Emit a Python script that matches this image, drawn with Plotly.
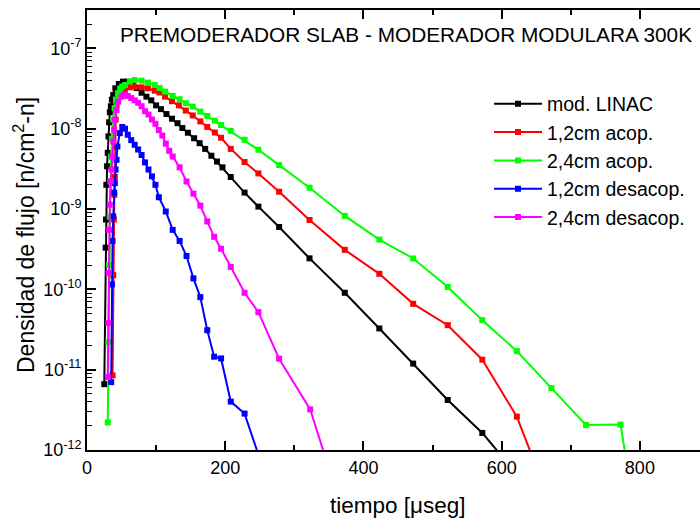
import plotly.graph_objects as go

# ---- data (time in microseconds, flux density) ----
t_linac = [25, 27, 27.5, 28, 29, 30, 31, 32, 33, 34.5, 36, 38, 41, 46, 52, 59, 66, 72, 79, 86,
           93, 100, 107, 115, 123, 131, 138, 146, 155, 163, 171, 180, 188, 196, 208, 228, 248, 278, 322, 373,
           423, 472, 522, 572, 622]
y_linac = [6.6e-12, 3.3e-10, 7.4e-10, 2.0e-9, 3.4e-9, 5.0e-9, 8.0e-9, 1.2e-8, 1.6e-8, 1.9e-8,
           2.3e-8, 2.63e-8, 3.18e-8, 3.6e-8, 3.85e-8, 3.85e-8, 3.55e-8, 3.2e-8, 2.8e-8, 2.5e-8,
           2.25e-8, 1.95e-8, 1.75e-8, 1.52e-8, 1.33e-8, 1.17e-8, 1.02e-8, 8.9e-9, 7.6e-9, 6.6e-9,
           5.6e-9, 4.6e-9, 3.9e-9, 3.3e-9, 2.5e-9, 1.6e-9, 1.07e-9, 5.97e-10, 2.43e-10, 9.06e-11,
           3.26e-11, 1.19e-11, 4.19e-12, 1.63e-12, 5e-13]

t_12acop = [37, 38, 38.8, 39.5, 40.3, 40.8, 41.5, 42.7, 47.5, 54.7, 62, 69, 79, 88, 98, 105, 113, 123,
            133, 143, 153, 164, 174, 185, 194, 208, 228, 248, 278, 322, 373, 423, 472, 522, 572, 622, 672]
y_12acop = [8.5e-12, 1.5e-10, 7.4e-10, 1.5e-9, 2.5e-9, 6e-9, 1.3e-8, 2.0e-8, 2.63e-8, 3.03e-8,
            3.27e-8, 3.33e-8, 3.27e-8, 3.18e-8, 2.97e-8, 2.82e-8, 2.5e-8, 2.2e-8, 1.95e-8, 1.68e-8,
            1.46e-8, 1.23e-8, 1.05e-8, 8.95e-9, 7.7e-9, 5.6e-9, 3.84e-9, 2.77e-9, 1.64e-9, 7.3e-10,
            3.1e-10, 1.56e-10, 6.6e-11, 3.58e-11, 1.33e-11, 2.6e-12, 2e-13]

t_24acop = [30, 31, 32, 33, 34, 35, 36, 38, 40, 42, 45, 48, 51, 55, 62, 69, 79, 88, 98, 105,
            113, 124, 134, 143, 153, 164, 174, 185, 194, 208, 228, 248, 278, 322, 373, 423, 472, 522, 572, 622,
            672, 722, 772, 790]
y_24acop = [2.2e-12, 2.2e-11, 2e-10, 8e-10, 2.2e-9, 4.5e-9, 7.5e-9, 1.3e-8, 1.8e-8, 2.3e-8,
            2.76e-8, 3.15e-8, 3.35e-8, 3.5e-8, 3.85e-8, 4.03e-8, 3.96e-8, 3.74e-8, 3.5e-8, 3.2e-8,
            2.89e-8, 2.55e-8, 2.32e-8, 2.07e-8, 1.88e-8, 1.63e-8, 1.44e-8, 1.26e-8, 1.11e-8, 9.4e-9,
            7.26e-9, 5.46e-9, 3.52e-9, 1.84e-9, 8.2e-10, 4.16e-10, 2.42e-10, 1.07e-10, 4.13e-11, 1.7e-11,
            5.9e-12, 2.05e-12, 2.07e-12, 2.3e-13]

t_12desa = [35, 36, 37, 38, 39.3, 40.3, 41.3, 42.7, 44, 47.5, 51, 55, 59, 64, 69, 74, 79, 84, 89, 94,
            99, 104, 114, 124, 134, 144, 154, 164, 174, 184, 194, 208, 228, 278]
y_12desa = [7e-12, 1.15e-10, 4e-10, 8.1e-10, 1.6e-9, 2.1e-9, 3.1e-9, 4.1e-9, 6e-9, 8.8e-9,
            1.05e-8, 1.0e-8, 8.4e-9, 7.2e-9, 6.3e-9, 5.5e-9, 4.7e-9, 3.8e-9, 3.1e-9, 2.55e-9,
            2.0e-9, 1.4e-9, 9.3e-10, 5.5e-10, 4.0e-10, 2.6e-10, 1.37e-10, 8e-11, 3.1e-11, 1.45e-11,
            1.38e-11, 4e-12, 2.84e-12, 1.5e-13]

t_24desa = [30, 30.7, 31.3, 32, 33, 34.5, 35.5, 36.5, 38, 39.3, 40.3, 42.7, 45, 50, 54, 59, 64, 69, 74, 79,
            84, 89, 94, 99, 104, 109, 114, 119, 124, 134, 144, 154, 164, 174, 184, 194, 208, 228, 248, 278,
            323, 373]
y_24desa = [8.1e-12, 3.8e-11, 1.6e-10, 5.5e-10, 1.13e-9, 2.2e-9, 3.1e-9, 4.5e-9, 6.9e-9, 9.7e-9,
            1.29e-8, 1.71e-8, 2.17e-8, 2.5e-8, 2.65e-8, 2.55e-8, 2.4e-8, 2.25e-8, 2.1e-8, 1.9e-8,
            1.65e-8, 1.5e-8, 1.3e-8, 1.15e-8, 9.6e-9, 8.2e-9, 6.5e-9, 5.3e-9, 4.5e-9, 3.3e-9,
            2.2e-9, 1.55e-9, 1.1e-9, 7e-10, 4.5e-10, 3.2e-10, 1.9e-10, 9.06e-11, 5.2e-11, 1.37e-11,
            3.2e-12, 1.4e-13]

series_names = ["mod. LINAC", "1,2cm acop.", "2,4cm acop.", "1,2cm desacop.", "2,4cm desacop."]
series_colors = ["#000000", "#FF0000", "#00FF00", "#0000FF", "#FF00FF"]
series_t = [t_linac, t_12acop, t_24acop, t_12desa, t_24desa]
series_y = [y_linac, y_12acop, y_24acop, y_12desa, y_24desa]

x_tickvals = [0, 200, 400, 600, 800]
x_ticktext = ["0", "200", "400", "600", "800"]
y_exponents = [-12, -11, -10, -9, -8, -7]
y_tickvals = [10.0 ** e for e in y_exponents]
y_ticktext = ["10<sup>%d</sup>" % e for e in y_exponents]
y_minorvals = [k * 10.0 ** e for e in range(-12, -6) for k in range(2, 10)]

title_text = "PREMODERADOR SLAB - MODERADOR MODULARA 300K"
x_title = "tiempo [\u03bcseg]"
y_title = "Densidad de flujo [n/cm<sup>2</sup>-n]"

FONT = "Arial, 'Liberation Sans', sans-serif"

fig = go.Figure()
for name, col, tt, yy in zip(series_names, series_colors, series_t, series_y):
    fig.add_trace(go.Scatter(
        x=tt, y=yy, name=name, mode="lines+markers",
        line=dict(color=col, width=2),
        marker=dict(symbol="square", size=6, color=col),
    ))

W, H = 700, 523
L, R, T, B = 87, 0, 10, 73
pw, ph = W - L - R, H - T - B

fig.update_layout(
    width=W, height=H,
    margin=dict(l=L, r=R, t=T, b=B, autoexpand=False),
    paper_bgcolor="white", plot_bgcolor="white",
    font=dict(family=FONT, color="black"),
    showlegend=True,
    legend=dict(
        x=(489 - L) / pw, y=(450 - 84.5) / ph, xanchor="left", yanchor="top",
        bgcolor="rgba(0,0,0,0)", borderwidth=0,
        font=dict(size=19.5, family=FONT, color="black"),
        itemwidth=48, tracegroupgap=0,
    ),
    xaxis=dict(
        range=[0, 887], showgrid=False, zeroline=False,
        showline=True, linecolor="black", linewidth=2, mirror="ticks",
        ticks="inside", ticklen=9, tickwidth=1.5, tickcolor="black",
        tickvals=x_tickvals, ticktext=x_ticktext,
        tickfont=dict(size=18, family=FONT, color="black"),
        minor=dict(ticks="inside", ticklen=5, tickwidth=1.5, tickcolor="black",
                   tickvals=[100, 300, 500, 700], showgrid=False),
    ),
    yaxis=dict(
        type="log", range=[-12, -6.523], showgrid=False, zeroline=False,
        showline=True, linecolor="black", linewidth=2,
        ticks="inside", ticklen=9, tickwidth=1.5, tickcolor="black",
        tickvals=y_tickvals, ticktext=y_ticktext,
        tickfont=dict(size=18, family=FONT, color="black"),
        minor=dict(ticks="inside", ticklen=5, tickwidth=1, tickcolor="black",
                   tickvals=y_minorvals, showgrid=False),
    ),
    annotations=[
        dict(text=title_text, xref="paper", yref="paper",
             x=(118 - L) / pw, y=(450 - 35) / ph, xanchor="left", yanchor="middle",
             showarrow=False, font=dict(size=20.8, family=FONT, color="black")),
        dict(text=x_title, xref="paper", yref="paper",
             x=(398 - L) / pw, y=(450 - 505) / ph, xanchor="center", yanchor="middle",
             showarrow=False, font=dict(size=22.5, family=FONT, color="black")),
        dict(text=y_title, xref="paper", yref="paper",
             x=(24 - L) / pw, y=(450 - 235) / ph, xanchor="center", yanchor="middle",
             textangle=-90, showarrow=False, font=dict(size=23, family=FONT, color="black")),
    ],
)

fig.write_html(
    "out.html",
    config={"displayModeBar": False},
    post_script="document.body.style.margin='0px';document.body.style.overflow='hidden';",
)
